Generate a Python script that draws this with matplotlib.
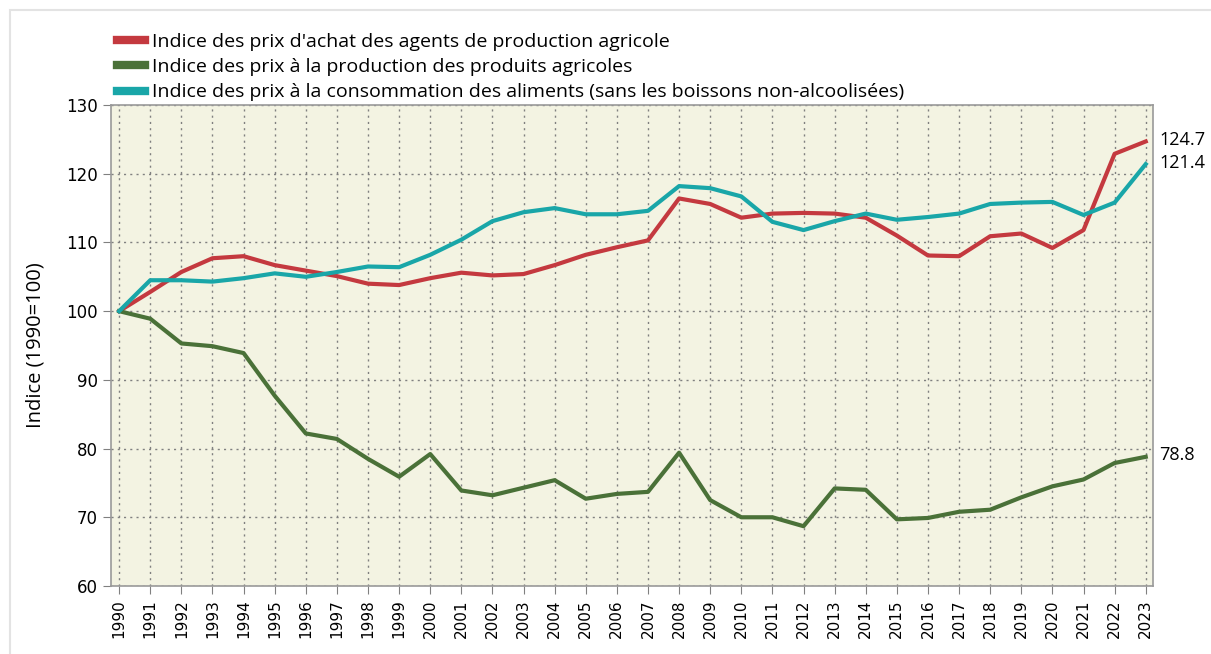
import matplotlib.pyplot as plt
from matplotlib.patches import Rectangle

years = list(range(1990, 2024))

achat = [100, 102.8, 105.7, 107.7, 108.0, 106.7, 105.9, 105.1, 104.0, 103.8,
         104.8, 105.6, 105.2, 105.4, 106.7, 108.2, 109.3, 110.3, 116.4, 115.6,
         113.6, 114.2, 114.3, 114.2, 113.6, 111.0, 108.1, 108.0, 110.9, 111.3,
         109.2, 111.8, 122.9, 124.7]

production = [100, 98.9, 95.3, 94.9, 93.9, 87.7, 82.2, 81.4, 78.5, 75.9,
              79.2, 73.9, 73.2, 74.3, 75.4, 72.7, 73.4, 73.7, 79.4, 72.5,
              70.0, 70.0, 68.7, 74.2, 74.0, 69.7, 69.9, 70.8, 71.1, 72.9,
              74.5, 75.5, 77.9, 78.8]

consommation = [100, 104.5, 104.5, 104.3, 104.8, 105.5, 105.0, 105.7, 106.5, 106.4,
                108.2, 110.4, 113.1, 114.4, 115.0, 114.1, 114.1, 114.6, 118.2, 117.9,
                116.7, 113.0, 111.8, 113.1, 114.2, 113.3, 113.7, 114.2, 115.6, 115.8,
                115.9, 114.0, 115.8, 121.4]

labels = ["Indice des prix d'achat des agents de production agricole",
          "Indice des prix à la production des produits agricoles",
          "Indice des prix à la consommation des aliments (sans les boissons non-alcoolisées)"]
colors = ["#C4393F", "#4A7138", "#19A6A8"]

fig = plt.figure(figsize=(12.11, 6.54), dpi=100)
fig.patches.append(Rectangle((0.008, -0.01), 1.0, 0.995, transform=fig.transFigure,
                             fill=False, edgecolor="#e3e3e3", linewidth=1.5))
ax = fig.add_axes([0.0917, 0.104, 0.8603, 0.7354])
ax.set_facecolor("#F3F3E2")

for series, lab, col in zip([achat, production, consommation], labels, colors):
    ax.plot(years, series, color=col, linewidth=3, label=lab, solid_joinstyle="round")

ax.set_xlim(1989.74, 2023.23)
ax.set_ylim(60, 130)
ax.set_yticks(range(60, 131, 10))
ax.set_xticks(years)
ax.set_xticklabels([str(y) for y in years], rotation=90, fontsize=11)
ax.tick_params(axis="y", labelsize=12, length=6, color="#808080")
ax.tick_params(axis="x", length=6, color="#808080")
ax.grid(True, linestyle=(0, (1.5, 3)), color="#808080", linewidth=1)
for sp in ax.spines.values():
    sp.set_color("#999999")
    sp.set_linewidth(1.2)

ax.set_ylabel("Indice (1990=100)", fontsize=14.5, family="Open Sans", labelpad=15)

for series in [achat, consommation, production]:
    ax.annotate(f"{series[-1]:.1f}", xy=(years[-1], series[-1]), xytext=(10, 1),
                textcoords="offset points", va="center", ha="left",
                fontsize=13, family="Open Sans")

leg = fig.legend(loc="upper left", bbox_to_anchor=(0.09, 0.962), frameon=False,
                 prop={"family": "Open Sans", "size": 14}, handlelength=1.45,
                 handletextpad=0.35, labelspacing=0.38, borderaxespad=0)
for line in leg.get_lines():
    line.set_linewidth(6)

fig.savefig("out.png", dpi=100)
